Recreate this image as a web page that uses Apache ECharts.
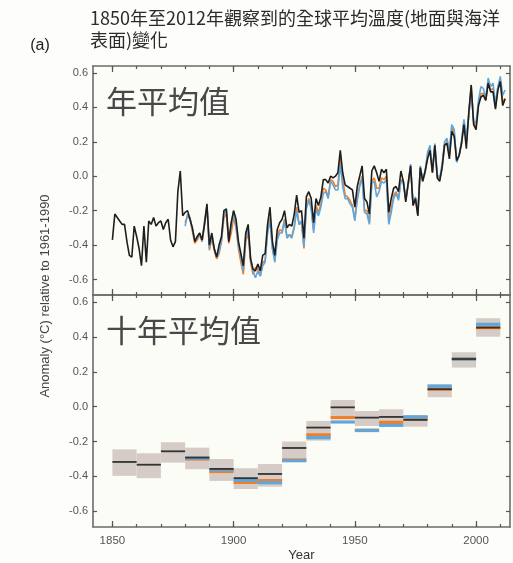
<!DOCTYPE html>
<html><head><meta charset="utf-8">
<script src="https://cdn.jsdelivr.net/npm/echarts@6/dist/echarts.min.js"></script>
<style>html,body{margin:0;padding:0;background:#fdfdfb;}#c{width:513px;height:563px;}</style>
</head><body><div id="c"></div>
<script>
// ---------- DATA ----------
const hadcrutStart = 1850;
const hadcrut = [
 -0.37,-0.22,-0.24,-0.26,-0.28,-0.28,-0.38,-0.46,-0.47,-0.29,
 -0.35,-0.42,-0.52,-0.29,-0.50,-0.26,-0.28,-0.24,-0.29,-0.27,
 -0.26,-0.31,-0.27,-0.25,-0.37,-0.41,-0.38,-0.09,0.03,-0.23,
 -0.21,-0.20,-0.25,-0.30,-0.38,-0.35,-0.33,-0.37,-0.28,-0.16,
 -0.40,-0.33,-0.42,-0.47,-0.40,-0.35,-0.20,-0.19,-0.38,-0.27,
 -0.20,-0.25,-0.38,-0.45,-0.52,-0.33,-0.28,-0.48,-0.54,-0.55,
 -0.51,-0.55,-0.46,-0.45,-0.28,-0.18,-0.38,-0.46,-0.31,-0.27,
 -0.25,-0.20,-0.30,-0.28,-0.29,-0.22,-0.11,-0.21,-0.20,-0.36,
 -0.12,-0.09,-0.13,-0.27,-0.13,-0.17,-0.12,-0.02,-0.02,-0.04,
 0.00,-0.01,0.00,0.02,0.15,0.02,-0.05,-0.06,-0.07,-0.08,
 -0.18,-0.06,0.00,0.06,-0.13,-0.15,-0.22,0.03,0.06,0.02,
 -0.03,0.04,0.02,0.04,-0.21,-0.13,-0.07,-0.06,-0.09,0.03,
 -0.03,-0.15,-0.04,0.06,-0.17,-0.13,-0.23,0.05,-0.03,0.03,
 0.10,0.15,0.02,0.18,-0.01,-0.03,0.05,0.18,0.19,0.10,
 0.26,0.23,0.09,0.12,0.19,0.30,0.16,0.37,0.53,0.30,
 0.27,0.41,0.46,0.47,0.44,0.54,0.49,0.49,0.39,0.50,
 0.55,0.41,0.45
];
const otherStart = 1880;
const mlost = [
 -0.27,-0.23,-0.25,-0.32,-0.39,-0.37,-0.34,-0.38,-0.28,-0.18,
 -0.43,-0.36,-0.43,-0.48,-0.45,-0.38,-0.24,-0.22,-0.39,-0.33,
 -0.24,-0.30,-0.42,-0.50,-0.57,-0.38,-0.33,-0.50,-0.57,-0.53,
 -0.54,-0.58,-0.50,-0.49,-0.32,-0.24,-0.42,-0.49,-0.35,-0.31,
 -0.32,-0.25,-0.35,-0.34,-0.35,-0.29,-0.18,-0.28,-0.27,-0.42,
 -0.17,-0.13,-0.18,-0.31,-0.17,-0.21,-0.16,-0.07,-0.08,-0.12,
 -0.02,-0.03,-0.06,-0.05,0.10,-0.02,-0.11,-0.12,-0.14,-0.17,
 -0.25,-0.12,-0.05,0.00,-0.20,-0.20,-0.27,-0.03,-0.01,-0.07,
 -0.07,-0.01,-0.02,0.00,-0.26,-0.19,-0.11,-0.09,-0.13,-0.02,
 -0.03,-0.14,-0.05,0.06,-0.17,-0.13,-0.23,0.05,-0.03,0.02,
 0.12,0.16,0.02,0.18,0.00,-0.02,0.05,0.18,0.20,0.12,
 0.29,0.25,0.09,0.12,0.19,0.32,0.20,0.36,0.52,0.31,
 0.29,0.42,0.48,0.48,0.44,0.55,0.50,0.51,0.40,0.51,
 0.56,0.43,0.45
];
const giss = [
 -0.29,-0.22,-0.24,-0.31,-0.37,-0.36,-0.33,-0.38,-0.26,-0.17,
 -0.42,-0.34,-0.42,-0.47,-0.44,-0.37,-0.22,-0.20,-0.37,-0.29,
 -0.20,-0.29,-0.40,-0.47,-0.55,-0.35,-0.31,-0.48,-0.55,-0.59,
 -0.55,-0.58,-0.52,-0.50,-0.33,-0.26,-0.42,-0.50,-0.37,-0.33,
 -0.33,-0.26,-0.36,-0.34,-0.36,-0.30,-0.20,-0.28,-0.26,-0.41,
 -0.19,-0.14,-0.19,-0.33,-0.19,-0.23,-0.18,-0.10,-0.09,-0.13,
 -0.03,-0.05,-0.08,-0.08,0.07,-0.06,-0.13,-0.13,-0.16,-0.18,
 -0.26,-0.14,-0.06,-0.01,-0.21,-0.22,-0.28,-0.04,-0.03,-0.12,
 -0.09,-0.03,-0.04,-0.02,-0.28,-0.21,-0.13,-0.10,-0.14,-0.03,
 -0.03,-0.13,-0.05,0.07,-0.16,-0.12,-0.22,0.06,-0.02,0.03,
 0.14,0.18,0.03,0.19,0.01,-0.01,0.07,0.20,0.22,0.15,
 0.30,0.27,0.08,0.12,0.20,0.33,0.22,0.35,0.50,0.32,
 0.31,0.44,0.52,0.51,0.45,0.57,0.52,0.54,0.42,0.52,
 0.58,0.47,0.50
];
const decadeStarts = [1850,1860,1870,1880,1890,1900,1910,1920,1930,1940,1950,1960,1970,1980,1990,2000];
const decadeLength = 10;
const decHadcrut = [-0.317,-0.333,-0.256,-0.292,-0.357,-0.410,-0.386,-0.237,-0.120,-0.004,-0.063,-0.059,-0.076,0.100,0.273,0.453];
const decMlost   = [null,null,null,-0.300,-0.372,-0.434,-0.424,-0.305,-0.162,-0.063,-0.135,-0.090,-0.062,0.100,0.273,0.453];
const decGiss    = [null,null,null,-0.295,-0.362,-0.422,-0.436,-0.310,-0.178,-0.088,-0.137,-0.107,-0.059,0.117,0.273,0.472];
const boxLow  = [-0.397,-0.410,-0.321,-0.359,-0.426,-0.472,-0.459,-0.296,-0.195,-0.057,-0.111,-0.115,-0.115,0.054,0.224,0.401];
const boxHigh = [-0.245,-0.267,-0.204,-0.235,-0.300,-0.353,-0.329,-0.200,-0.082,0.038,-0.025,-0.015,-0.048,0.130,0.312,0.507];
const yTickValues = [-0.6,-0.4,-0.2,0.0,0.2,0.4,0.6];
const xMinorTicks = [1850,1860,1870,1880,1890,1900,1910,1920,1930,1940,1950,1960,1970,1980,1990,2000,2010];
const xMajorTicks = [1850,1900,1950,2000];
const titleLine1 = '1850年至2012年觀察到的全球平均溫度(地面與海洋';
const titleLine2 = '表面)變化';
const panelTag = '(a)';
const topLabel = '年平均值';
const bottomLabel = '十年平均值';
const yName = 'Anomaly (°C) relative to 1961-1990';
const xName = 'Year';

// ---------- BUILD ----------
const X_MIN = 1842, X_MAX = 2014, Y_MIN = -0.69, Y_MAX = 0.64;
const AXIS_COLOR = '#6b6b6b';
const LABEL_FONT = 'Liberation Sans';

function pairs(start, arr){ return arr.map((v,i)=>[start+i, v]); }
function decPairs(arr){ return decadeStarts.map((s,i)=>[s, arr[i]]).filter(d=>d[1]!==null); }

function xAxesFor(gridIndex, showLabels){
  const base = {type:'value', gridIndex, min:X_MIN, max:X_MAX, splitLine:{show:false}};
  const tickStyle = {color:'#555', width:1.2};
  return [
    Object.assign({}, base, {position:'bottom',
      axisLine:{show:true, onZero:false, lineStyle:{color:AXIS_COLOR, width:1.6}},
      axisTick:{show:true, inside:true, length:3, customValues:xMinorTicks, lineStyle:tickStyle},
      axisLabel:{show:showLabels, customValues:xMajorTicks, margin:8, color:'#555', fontSize:11.5, fontFamily:LABEL_FONT, formatter:v=>String(v)},
      name: showLabels ? xName : '', nameLocation:'middle', nameGap:22,
      nameTextStyle:{color:'#333', fontSize:13, fontFamily:LABEL_FONT}
    }),
    Object.assign({}, base, {position:'bottom',
      axisLine:{show:false, onZero:false},
      axisTick:{show:true, inside:true, length:6, customValues:xMajorTicks, lineStyle:tickStyle},
      axisLabel:{show:false}}),
    Object.assign({}, base, {position:'top',
      axisLine:{show:true, onZero:false, lineStyle:{color:AXIS_COLOR, width:1.6}},
      axisTick:{show:true, inside:true, length:3, customValues:xMinorTicks, lineStyle:tickStyle},
      axisLabel:{show:false}}),
    Object.assign({}, base, {position:'top',
      axisLine:{show:false, onZero:false},
      axisTick:{show:true, inside:true, length:6, customValues:xMajorTicks, lineStyle:tickStyle},
      axisLabel:{show:false}})
  ];
}
function yAxesFor(gridIndex){
  const base = {type:'value', gridIndex, min:Y_MIN, max:Y_MAX, splitLine:{show:false}};
  const tickStyle = {color:'#555', width:1.2};
  return [
    Object.assign({}, base, {position:'left',
      axisLine:{show:true, onZero:false, lineStyle:{color:AXIS_COLOR, width:1.6}},
      axisTick:{show:true, inside:true, length:4, customValues:yTickValues, lineStyle:tickStyle},
      axisLabel:{show:true, customValues:yTickValues, margin:5, color:'#555', fontSize:11, fontFamily:LABEL_FONT, formatter:v=>v.toFixed(1)}}),
    Object.assign({}, base, {position:'right',
      axisLine:{show:true, onZero:false, lineStyle:{color:AXIS_COLOR, width:1.6}},
      axisTick:{show:true, inside:true, length:4, customValues:yTickValues, lineStyle:tickStyle},
      axisLabel:{show:false}})
  ];
}

function boxRender(params, api){
  const s = api.value(0), lo = api.value(1), hi = api.value(2);
  const a = api.coord([s, hi]), b = api.coord([s + decadeLength, lo]);
  return {type:'rect', shape:{x:a[0], y:a[1], width:b[0]-a[0], height:b[1]-a[1]}, style:{fill:'#d6ccc7'}};
}
function segRender(color, width){
  return function(params, api){
    const s = api.value(0), v = api.value(1);
    const a = api.coord([s, v]), b = api.coord([s + decadeLength, v]);
    return {type:'line', shape:{x1:a[0], y1:a[1], x2:b[0], y2:b[1]}, style:{stroke:color, lineWidth:width}};
  };
}

const ORANGE = '#ef7d2a', BLUE = '#5fa6dc', BLACK = '#1e1e1e';

const option = {
  backgroundColor:'#fdfdfb',
  animation:false,
  grid:[
    {left:93, top:66, width:417, height:229, show:true, backgroundColor:'#fcfcf7', borderWidth:0},
    {left:93, top:295, width:417, height:232, show:true, backgroundColor:'#fcfcf7', borderWidth:0}
  ],
  xAxis: xAxesFor(0,false).concat(xAxesFor(1,true)),
  yAxis: yAxesFor(0).concat(yAxesFor(1)),
  series:[
    {type:'line', xAxisIndex:0, yAxisIndex:0, data:pairs(otherStart, mlost), showSymbol:false, lineStyle:{color:ORANGE, width:1.6}, itemStyle:{color:ORANGE}, z:2},
    {type:'line', xAxisIndex:0, yAxisIndex:0, data:pairs(otherStart, giss), showSymbol:false, lineStyle:{color:BLUE, width:1.6}, itemStyle:{color:BLUE}, z:3},
    {type:'line', xAxisIndex:0, yAxisIndex:0, data:pairs(hadcrutStart, hadcrut), showSymbol:false, lineStyle:{color:BLACK, width:1.6}, itemStyle:{color:BLACK}, z:4},
    {type:'custom', xAxisIndex:4, yAxisIndex:2, data:decadeStarts.map((s,i)=>[s, boxLow[i], boxHigh[i]]), renderItem:boxRender, z:2},
    {type:'custom', xAxisIndex:4, yAxisIndex:2, data:decPairs(decMlost), renderItem:segRender(ORANGE,3.2), z:3},
    {type:'custom', xAxisIndex:4, yAxisIndex:2, data:decPairs(decGiss), renderItem:segRender(BLUE,3.2), z:4},
    {type:'custom', xAxisIndex:4, yAxisIndex:2, data:decPairs(decHadcrut), renderItem:segRender('#333333',1.8), z:5}
  ],
  graphic:[
    {type:'text', x:90, y:18, style:{text:titleLine1, font:'18px "Noto Sans CJK TC"', fill:'#2b2b2b', align:'left', textAlign:'left', verticalAlign:'middle', textVerticalAlign:'middle'}},
    {type:'text', x:90, y:40, style:{text:titleLine2, font:'18px "Noto Sans CJK TC"', fill:'#2b2b2b', align:'left', textAlign:'left', verticalAlign:'middle', textVerticalAlign:'middle'}},
    {type:'text', x:40, y:46, style:{text:panelTag, font:'16px "Liberation Sans"', fill:'#222', align:'center', textAlign:'center', verticalAlign:'middle', textVerticalAlign:'middle'}},
    {type:'text', x:106, y:101, z:10, style:{text:topLabel, font:'31px "Noto Sans CJK TC"', fill:'#484848', align:'left', textAlign:'left', verticalAlign:'middle', textVerticalAlign:'middle'}},
    {type:'text', x:106, y:330, z:10, style:{text:bottomLabel, font:'31px "Noto Sans CJK TC"', fill:'#484848', align:'left', textAlign:'left', verticalAlign:'middle', textVerticalAlign:'middle'}},
    {type:'text', x:45, y:296, rotation:Math.PI/2, style:{text:yName, font:'13px "Liberation Sans"', fill:'#444', align:'center', textAlign:'center', verticalAlign:'middle', textVerticalAlign:'middle'}}
  ]
};
const chart = echarts.init(document.getElementById('c'), null, {renderer:'canvas'});
chart.setOption(option);
</script></body></html>
